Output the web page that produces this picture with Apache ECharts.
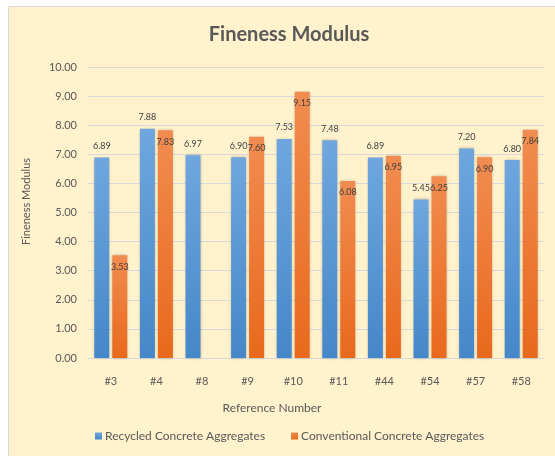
<!DOCTYPE html>
<html>
<head>
<meta charset="utf-8">
<script src="https://cdn.jsdelivr.net/npm/echarts@6/dist/echarts.min.js"></script>
<style>
  html, body { margin: 0; padding: 0; background: #fff; }
  #main { width: 555px; height: 456px; }
</style>
</head>
<body>
<div id="main"></div>
<script>
const categories = ['#3', '#4', '#8', '#9', '#10', '#11', '#44', '#54', '#57', '#58']
const recycled = [6.89, 7.88, 6.97, 6.90, 7.53, 7.48, 6.89, 5.45, 7.20, 6.80]
const conventional = [3.53, 7.83, null, 7.60, 9.15, 6.08, 6.95, 6.25, 6.90, 7.84]

const font = 'Lato, "Open Sans", sans-serif'

const grad = (top, bottom) => new echarts.graphic.LinearGradient(0, 0, 0, 1, [
    {offset: 0, color: top},
    {offset: 1, color: bottom}
])

const labelStyle = {
    show: true,
    fontSize: 9,
    color: '#404040',
    fontFamily: font,
    formatter: p => p.value == null ? '' : p.value.toFixed(2)
}

const option = {
    animation: false,
    graphic: [{
        type: 'rect',
        left: 8, top: 6,
        shape: {width: 560, height: 460},
        style: {fill: '#FFF2CC', stroke: '#D9D9D9', lineWidth: 1},
        z: -10
    }],
    title: {
        text: 'Fineness Modulus',
        left: 284, top: 20,
        textAlign: 'center',
        textStyle: {fontSize: 20, fontWeight: 'bold', color: '#595959', fontFamily: font}
    },
    legend: {
        bottom: 9,
        left: 90,
        itemWidth: 7, itemHeight: 7,
        itemGap: 26,
        icon: 'rect',
        textStyle: {fontSize: 12, color: '#595959', fontFamily: font, padding: [0, 0, 0, -2]},
        data: ['Recycled Concrete Aggregates', 'Conventional Concrete Aggregates']
    },
    grid: {left: 88, right: 11, top: 67, bottom: 98},
    xAxis: {
        type: 'category',
        data: categories,
        name: 'Reference Number',
        nameLocation: 'middle',
        nameGap: 44,
        nameTextStyle: {fontSize: 12, color: '#595959', fontFamily: font, padding: [0, 88, 0, 0]},
        axisLine: {lineStyle: {color: '#D9D9D9'}},
        axisTick: {show: false},
        axisLabel: {fontSize: 11, color: '#595959', fontFamily: font, margin: 18}
    },
    yAxis: {
        type: 'value',
        min: 0, max: 10, interval: 1,
        name: 'Fineness Modulus',
        nameLocation: 'middle',
        nameGap: 56,
        nameTextStyle: {fontSize: 11, color: '#595959', fontFamily: font, padding: [0, 0, 0, 22]},
        axisLabel: {fontSize: 11, color: '#595959', fontFamily: font, margin: 11,
            formatter: v => v.toFixed(2)},
        splitLine: {lineStyle: {color: '#D9D9D9'}}
    },
    series: [{
        name: 'Recycled Concrete Aggregates',
        type: 'bar',
        data: recycled,
        barWidth: 15,
        barGap: '20%',
        itemStyle: {color: grad('#6FA6DE', '#4587C9'), shadowColor: 'rgba(0,0,0,0.25)', shadowBlur: 3},
        label: Object.assign({position: 'top', distance: 7}, labelStyle)
    }, {
        name: 'Conventional Concrete Aggregates',
        type: 'bar',
        data: conventional,
        barWidth: 15,
        itemStyle: {color: grad('#F18C50', '#E8691C'), shadowColor: 'rgba(0,0,0,0.25)', shadowBlur: 3},
        label: Object.assign({position: 'insideTop', distance: 7}, labelStyle)
    }]
}

const chart = echarts.init(document.getElementById('main'))
chart.setOption(option)
</script>
</body>
</html>
